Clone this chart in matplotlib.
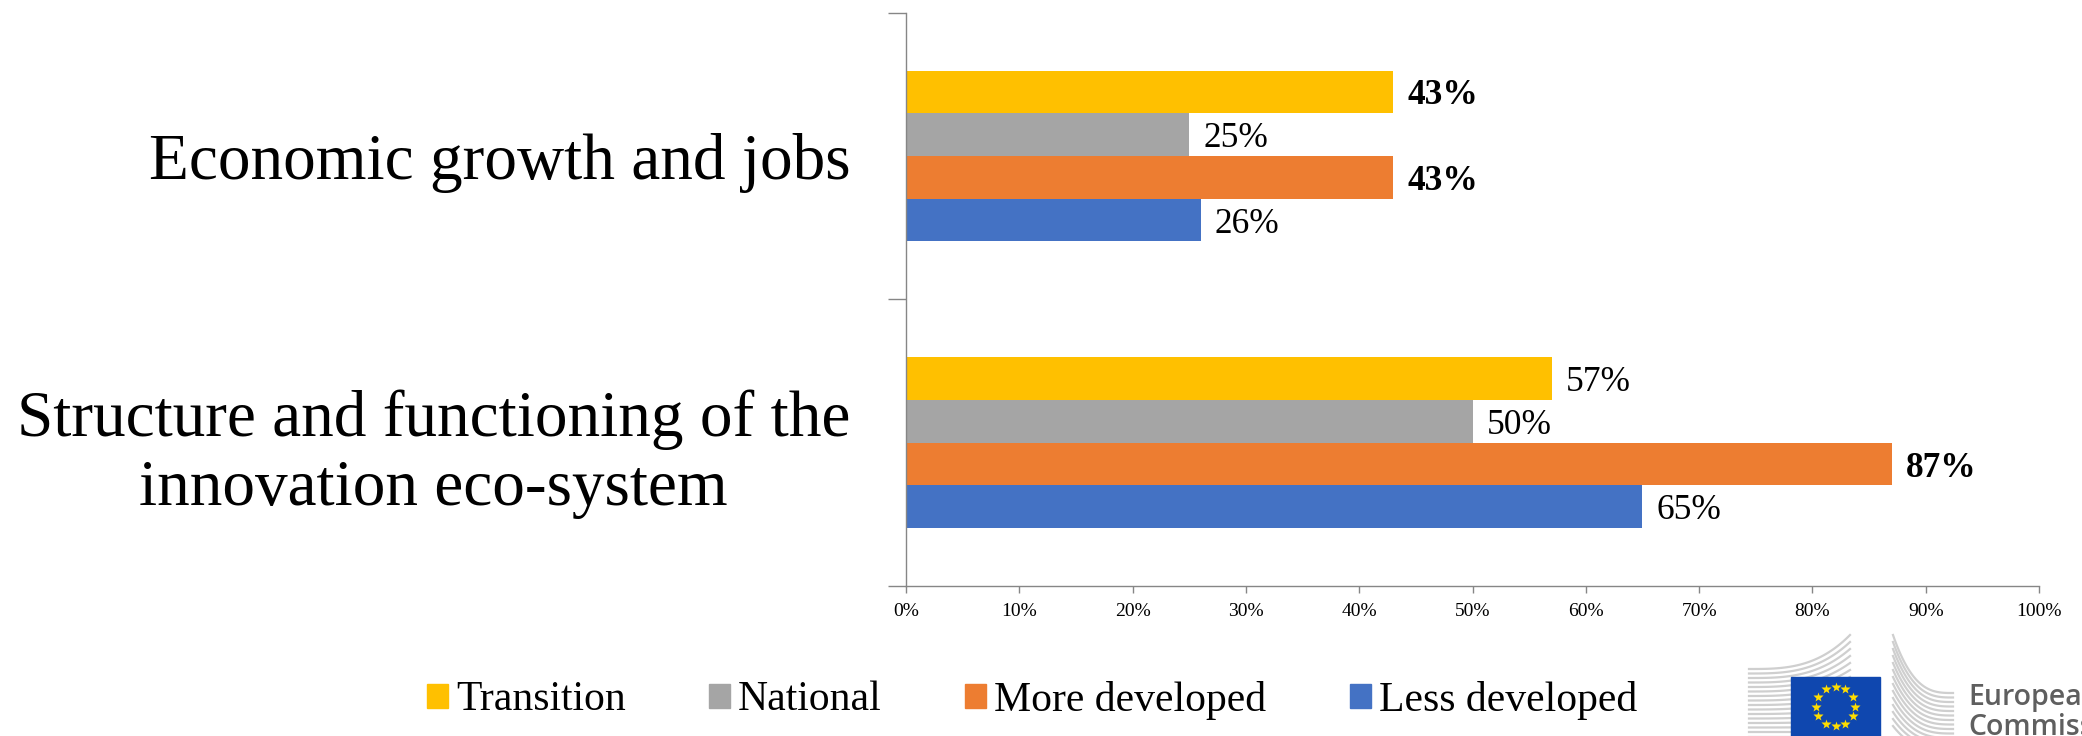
import matplotlib.pyplot as plt
from matplotlib.patches import Patch, Rectangle
from matplotlib.ticker import PercentFormatter
import numpy as np

# data (percent)
categories = ["Economic growth and jobs",
              "Structure and functioning of the\ninnovation eco-system"]
series_names = ["Transition", "National", "More developed", "Less developed"]
transition = [43, 57]
national = [25, 50]
more_developed = [43, 87]
less_developed = [26, 65]
x_ticks = [0, 10, 20, 30, 40, 50, 60, 70, 80, 90, 100]

# labels shown in bold in the original: (series, category index)
bold_labels = {("Transition", 0), ("More developed", 0), ("More developed", 1)}

colors = ["#FFC000", "#A5A5A5", "#ED7D31", "#4472C4"]
axis_gray = "#868686"

plt.rcParams['font.family'] = ['Liberation Serif', 'DejaVu Serif']

W, H = 2082, 736
fig = plt.figure(figsize=(W / 100, H / 100), dpi=100)
ax = fig.add_axes([906 / W, 150 / H, 1133 / W, 573.3 / H])

bar_h = 0.149
ypos = np.arange(len(categories)) + 0.5
series_values = [transition, national, more_developed, less_developed]

for i, (name, vals, col) in enumerate(zip(series_names, series_values, colors)):
    offs = (i - 1.5) * bar_h
    bars = ax.barh(ypos + offs, vals, height=bar_h, color=col, label=name)
    texts = ax.bar_label(bars, labels=[f"{v}%" for v in vals], padding=10, fontsize=25.5)
    for j, t in enumerate(texts):
        t.set_va('center_baseline')
        if (name, j) in bold_labels:
            t.set_fontweight('bold')

ax.set_xlim(0, 100)
ax.set_ylim(2, 0)

# category labels (major) and category boundary ticks (minor)
ax.set_yticks(ypos, categories)
ax.set_yticks([0, 1, 2], minor=True)
ax.tick_params(axis='y', which='major', length=0, pad=40, labelsize=47)
ax.tick_params(axis='y', which='minor', length=13, width=1, color=axis_gray, direction='out')
for lab in ax.get_yticklabels():
    lab.set_multialignment('center')
    lab.set_linespacing(1.2)

ax.set_xticks(x_ticks)
ax.xaxis.set_major_formatter(PercentFormatter(decimals=0))
ax.tick_params(axis='x', length=5, width=1, color=axis_gray, labelsize=14, pad=7)

ax.spines[['top', 'right']].set_visible(False)
for s in ['left', 'bottom']:
    ax.spines[s].set_color(axis_gray)
    ax.spines[s].set_linewidth(1)

handles = [Patch(color=c, label=n) for n, c in zip(series_names, colors)]
fig.legend(handles=handles, loc='center', bbox_to_anchor=(1032 / W, 36 / H), ncol=4,
           frameon=False, fontsize=30, handlelength=0.5, handleheight=0.5,
           handletextpad=0.2, columnspacing=2.0, borderpad=0, borderaxespad=0)

# European Commission logo (rough sketch, bottom right, partly cut off)
lax = fig.add_axes([1740 / W, 0, (W - 1740) / W, 116 / H])
lax.set_xlim(1740, W)
lax.set_ylim(H, 620)
lax.axis('off')
line_gray = "#cfcfcf"
for i in range(16):
    xs = np.linspace(1749, 1850, 60)
    t = (xs - 1749) / 101
    y_left = 669 + 4.5 * i
    y_end = min(635 + 7 * i, y_left)
    lax.plot(xs, y_left - (y_left - y_end) * t ** 3, color=line_gray, lw=1.6)
for i in range(14):
    xs = np.linspace(1893, 1953, 60)
    t = (xs - 1893) / 60
    y_start = 635 + 7 * i
    y_end = max(693 + 4.5 * i, y_start)
    lax.plot(xs, y_end - (y_end - y_start) * (1 - t) ** 3, color=line_gray, lw=1.6)
lax.add_patch(Rectangle((1791, 677), 89, 59, color="#0F47AF", zorder=3))
ang = np.linspace(0, 2 * np.pi, 13)[:-1]
lax.plot(1835.5 + 19.7 * np.cos(ang), 706.5 + 19.7 * np.sin(ang), ls='none',
         marker='*', ms=7, color="#FFDD00", mec='none', zorder=4)
lax.text(1968, 705, "European", fontsize=20.5, color="#5f5f5f", family="Open Sans",
         fontweight='semibold', va='baseline', ha='left')
lax.text(1968, 735, "Commission", fontsize=20.5, color="#5f5f5f", family="Open Sans",
         fontweight='semibold', va='baseline', ha='left')

fig.savefig("out.png", dpi=100)
